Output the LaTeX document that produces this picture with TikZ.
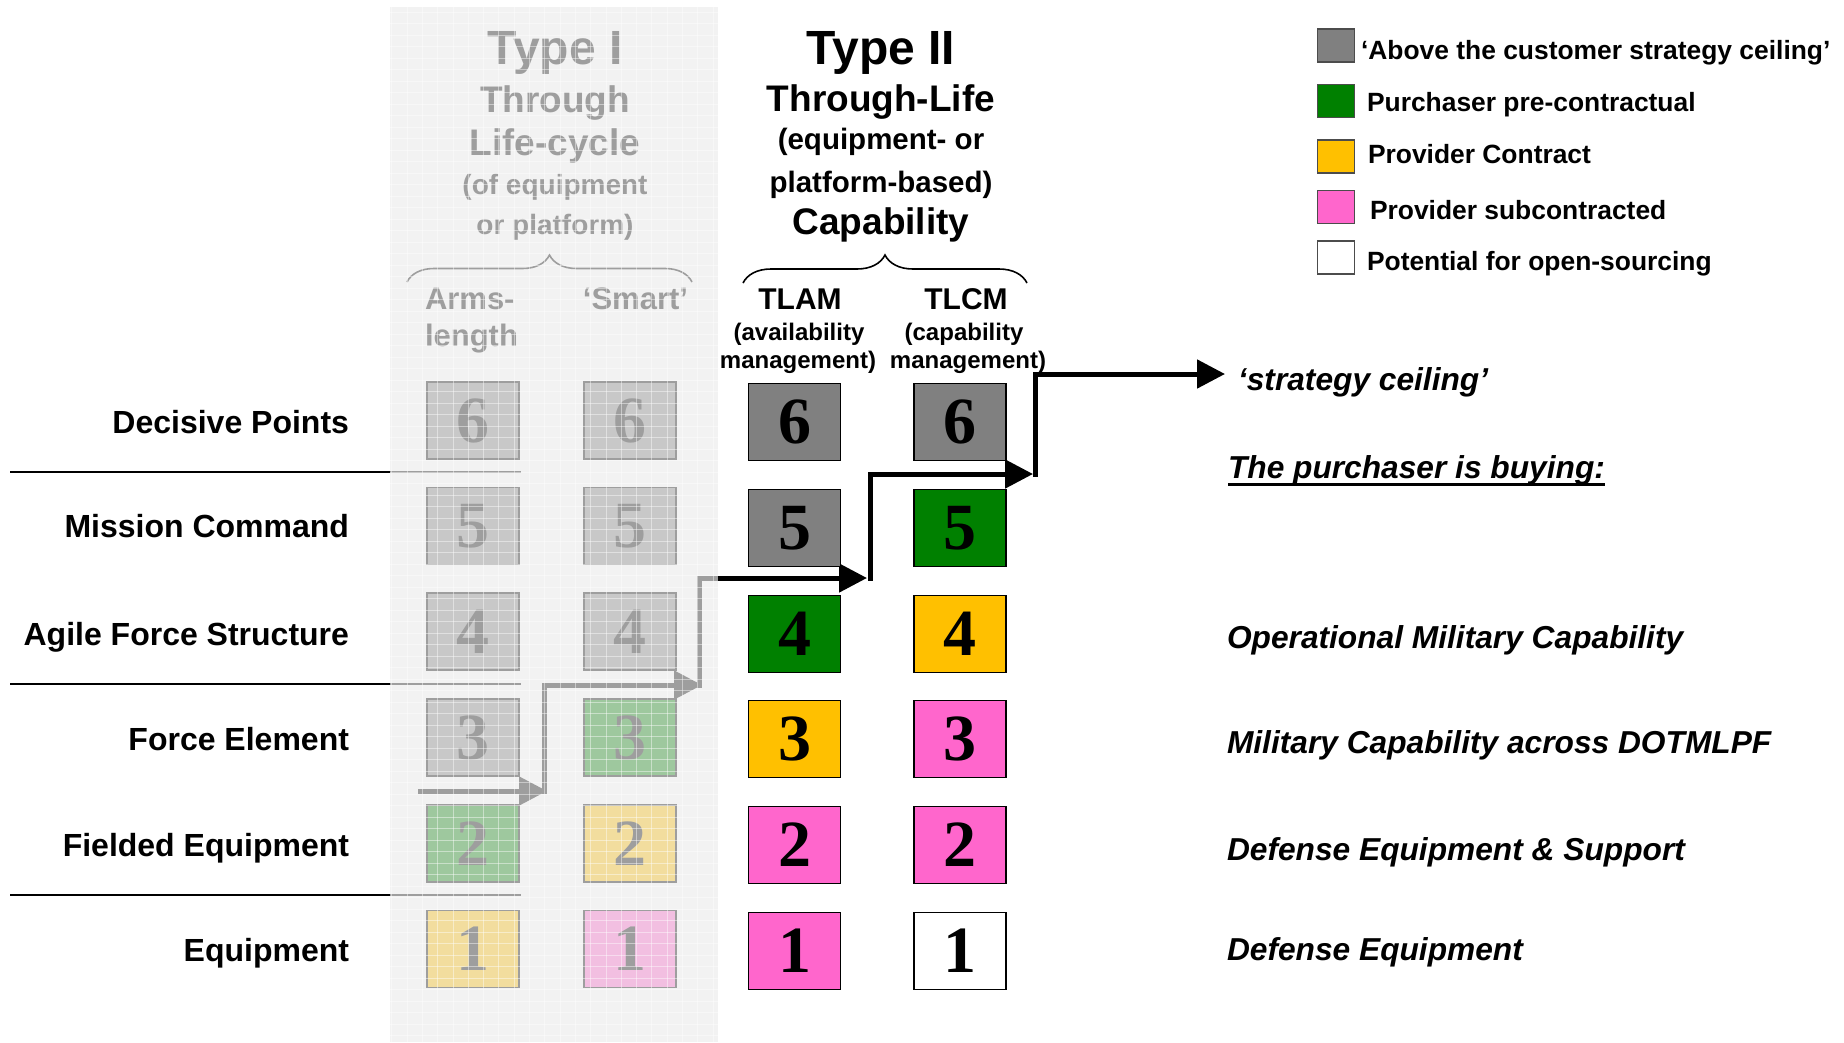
\documentclass[tikz,border=0pt]{standalone}
\usepackage{fontspec}
\setmainfont{Liberation Sans}
\newfontfamily\numfont{Liberation Serif}
\usetikzlibrary{arrows.meta,decorations.pathreplacing}
\definecolor{gbox}{HTML}{808080}
\definecolor{grn}{HTML}{008000}
\definecolor{gold}{HTML}{FFC000}
\definecolor{pink}{HTML}{FF66CC}
\definecolor{veil}{RGB}{236,236,236}
\newcommand{\fsz}[1]{\fontsize{#1}{#1}\selectfont}
\begin{document}
\begin{tikzpicture}[x=1pt,y=-1pt,
  every node/.style={inner sep=0pt,outer sep=0pt},
  rowlbl/.style={anchor=base east,font=\bfseries\fsz{32}},
  ttl/.style={anchor=base,font=\bfseries\fsz{#1}},
  ttlw/.style={anchor=base west,font=\bfseries\fsz{#1}},
  ttle/.style={anchor=base east,font=\bfseries\fsz{#1}},
  numbox/.style={draw=black,line width=1.6pt,minimum width=92pt,minimum height=77pt,font=\numfont\bfseries\fsz{66}},
  legbox/.style={draw=black!70,line width=1.5pt,minimum width=37pt,minimum height=33pt},
  legtxt/.style={anchor=base west,font=\bfseries\fsz{26.4}},
  rtxt/.style={anchor=base west,font=\bfseries\itshape\fsz{31.7}},
  sepline/.style={line width=2pt,black},
  bracedeco/.style={decorate,decoration={brace,amplitude=#1},line width=1.6pt},
  arr/.style={line width=5pt,line join=miter,-{Triangle[length=28pt,width=28pt]}},
  elbow/.style={arr,line cap=rect}
]
\useasboundingbox (0,0) rectangle (1844,1042);
\fill[white] (0,0) rectangle (1844,1042);

% row labels and separators
\node[rowlbl] (lDP) at (349,433) {Decisive Points};
\node[rowlbl] (lMC) at (349,537) {Mission Command};
\node[rowlbl] (lAF) at (349,645) {Agile Force Structure};
\node[rowlbl] (lFE) at (349,750) {Force Element};
\node[rowlbl] (lFQ) at (349,856) {Fielded Equipment};
\node[rowlbl] (lEQ) at (349,961) {Equipment};
\coordinate (s1a) at (10,472); \coordinate (s1b) at (521,472);
\coordinate (s2a) at (10,684); \coordinate (s2b) at (521,684);
\coordinate (s3a) at (10,895); \coordinate (s3b) at (521,895);
\draw[sepline] (s1a) -- (s1b);
\draw[sepline] (s2a) -- (s2b);
\draw[sepline] (s3a) -- (s3b);

% Type I (faded)
\node[ttl=48] (t1a) at (555,64) {Type I};
\node[ttl=37] (t1b) at (555,112) {Through};
\node[ttl=37] (t1c) at (555,155) {Life-cycle};
\node[ttl=28] (t1d) at (555,194) {(of equipment};
\node[ttl=28] (t1e) at (555,234) {or platform)};
\coordinate (b1l) at (407,282); \coordinate (b1r) at (692,282);
\draw[bracedeco=27pt] (b1l) -- (b1r);
\node[ttlw=31] (arm) at (425,309) {Arms-};
\node[ttlw=31] (len) at (425,346) {length};
\node[ttle=31] (sma) at (688,309) {‘Smart’};

\node[numbox,fill=gbox] (a6) at (473,420.5) {6};
\node[numbox,fill=gbox] (a5) at (473,526) {5};
\node[numbox,fill=gbox] (a4) at (473,631.5) {4};
\node[numbox,fill=gbox] (a3) at (473,737.5) {3};
\node[numbox,fill=grn] (a2) at (473,843.5) {2};
\node[numbox,fill=gold] (a1) at (473,949) {1};
\node[numbox,fill=gbox] (b6) at (630,420.5) {6};
\node[numbox,fill=gbox] (b5) at (630,526) {5};
\node[numbox,fill=gbox] (b4) at (630,631.5) {4};
\node[numbox,fill=grn] (b3) at (630,737.5) {3};
\node[numbox,fill=gold] (b2) at (630,843.5) {2};
\node[numbox,fill=pink] (b1) at (630,949) {1};

% stepped arrows
\coordinate (g0) at (418,791);
\coordinate (g1) at (547,791);
\coordinate (g1s) at (544,791);
\coordinate (g2) at (702,685);
\coordinate (g2s) at (699,685);
\coordinate (k3) at (867,578);
\coordinate (k3s) at (870,578);
\coordinate (k4) at (1033,474);
\coordinate (k4s) at (1035,474);
\coordinate (k5) at (1225,374);
\draw[arr] (g0) -- (g1);
\draw[elbow] (g1s) |- (g2);
\draw[elbow] (g2s) |- (k3);
\draw[elbow] (k3s) |- (k4);
\draw[elbow] (k4s) |- (k5);

% veil over Type I
\fill[veil,opacity=0.67] (390,7) rectangle (718,1042);
\foreach \gx in {391.8,407.1,...,718} \draw[white,opacity=0.45,line width=1pt] (\gx,7) -- (\gx,1042);
\foreach \gy in {12,23.5,...,1042} \draw[white,opacity=0.45,line width=1pt] (390,\gy) -- (718,\gy);

% Type II
\node[ttl=48] (t2a) at (881,64) {Type II};
\node[ttl=37] (t2b) at (881,111) {Through-Life};
\node[ttl=29.5] (t2c) at (881,149) {(equipment- or};
\node[ttl=29.5] (t2d) at (881,192) {platform-based)};
\node[ttl=37] (t2e) at (881,234) {Capability};
\coordinate (b2l) at (743,283); \coordinate (b2r) at (1027,283);
\draw[bracedeco=28pt] (b2l) -- (b2r);
\node[ttl=30] (tlam) at (800,309) {TLAM};
\node[ttl=24] (tlam2) at (799,340) {(availability};
\node[ttl=24] (tlam3) at (798,368) {management)};
\node[ttl=30] (tlcm) at (966,309) {TLCM};
\node[ttl=24] (tlcm2) at (964,340) {(capability};
\node[ttl=24] (tlcm3) at (968,368) {management)};

\node[numbox,fill=gbox] (m6) at (794.5,422) {6};
\node[numbox,fill=gbox] (m5) at (794.5,528) {5};
\node[numbox,fill=grn] (m4) at (794.5,634) {4};
\node[numbox,fill=gold] (m3) at (794.5,739) {3};
\node[numbox,fill=pink] (m2) at (794.5,845) {2};
\node[numbox,fill=pink] (m1) at (794.5,951) {1};
\node[numbox,fill=gbox] (c6) at (960,422) {6};
\node[numbox,fill=grn] (c5) at (960,528) {5};
\node[numbox,fill=gold] (c4) at (960,634) {4};
\node[numbox,fill=pink] (c3) at (960,739) {3};
\node[numbox,fill=pink] (c2) at (960,845) {2};
\node[numbox,fill=white] (c1) at (960,951) {1};

% legend
\node[legbox,fill=gbox] (L1) at (1335.75,45.5) {};
\node[legbox,fill=grn] (L2) at (1335.75,101) {};
\node[legbox,fill=gold] (L3) at (1335.75,156.5) {};
\node[legbox,fill=pink] (L4) at (1335.75,207) {};
\node[legbox,fill=white] (L5) at (1335.75,257.5) {};
\node[legtxt] (T1) at (1361,59) {‘Above the customer strategy ceiling’};
\node[legtxt] (T2) at (1367,111) {Purchaser pre-contractual};
\node[legtxt] (T3) at (1368,163) {Provider Contract};
\node[legtxt] (T4) at (1370,219) {Provider subcontracted};
\node[legtxt] (T5) at (1367,270) {Potential for open-sourcing};

% right-hand texts
\node[rtxt] (sc) at (1238,390) {‘strategy ceiling’};
\node[rtxt] (pb) at (1228,478) {The purchaser is buying:};
\draw[line width=3pt] ([yshift=-6pt]pb.base west) -- ([yshift=-6pt]pb.base east);
\node[rtxt] (r4) at (1227,648) {Operational Military Capability};
\node[rtxt] (r3) at (1227,753) {Military Capability across DOTMLPF};
\node[rtxt] (r2) at (1227,860) {Defense Equipment \& Support};
\node[rtxt] (r1) at (1227,960) {Defense Equipment};
\end{tikzpicture}
\end{document}
